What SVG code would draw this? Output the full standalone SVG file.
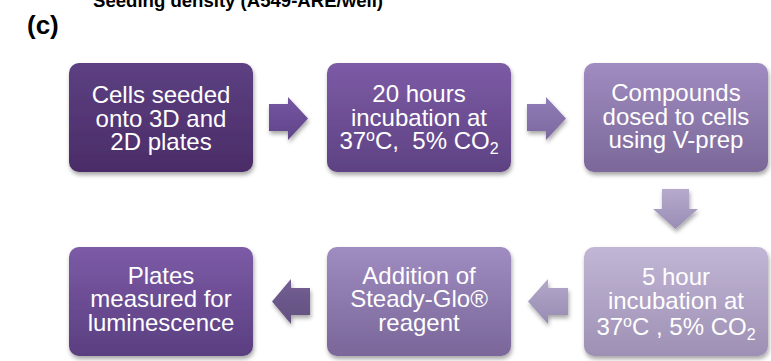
<svg xmlns="http://www.w3.org/2000/svg" width="771" height="361" viewBox="0 0 771 361">
<defs>
<style>
.lbl{font-family:"Liberation Sans",Arial,sans-serif;font-size:24px;fill:#ffffff;text-anchor:middle}
.sm{font-size:16px}
.hdr{font-family:"Liberation Sans",Arial,sans-serif;font-weight:bold;fill:#000000}
</style>
<filter id="sh" x="-10%" y="-10%" width="125%" height="130%">
<feDropShadow dx="1" dy="3" stdDeviation="2" flood-color="#000" flood-opacity="0.35"/>
</filter>
<linearGradient id="g1" x1="0" y1="0" x2="0" y2="1"><stop offset="0" stop-color="#5d4082"/><stop offset="1" stop-color="#4a2c67"/></linearGradient>
<linearGradient id="g2" x1="0" y1="0" x2="0" y2="1"><stop offset="0" stop-color="#7c5ba5"/><stop offset="1" stop-color="#5e4283"/></linearGradient>
<linearGradient id="g3" x1="0" y1="0" x2="0" y2="1"><stop offset="0" stop-color="#a08cc0"/><stop offset="1" stop-color="#7b6899"/></linearGradient>
<linearGradient id="g5" x1="0" y1="0" x2="0" y2="1"><stop offset="0" stop-color="#c2b6d6"/><stop offset="1" stop-color="#9d90b4"/></linearGradient>
<linearGradient id="g4" x1="0" y1="0" x2="0" y2="1"><stop offset="0" stop-color="#9f8cc0"/><stop offset="1" stop-color="#7a6699"/></linearGradient>
<linearGradient id="g6" x1="0" y1="0" x2="0" y2="1"><stop offset="0" stop-color="#7c5ba6"/><stop offset="1" stop-color="#5a3e80"/></linearGradient>
<linearGradient id="a1" x1="0" y1="0" x2="0" y2="1"><stop offset="0" stop-color="#7555a3"/><stop offset="1" stop-color="#604589"/></linearGradient>
<linearGradient id="a2" x1="0" y1="0" x2="0" y2="1"><stop offset="0" stop-color="#917db7"/><stop offset="1" stop-color="#7b689e"/></linearGradient>
<linearGradient id="a3" x1="0" y1="0" x2="0" y2="1"><stop offset="0" stop-color="#b6aacd"/><stop offset="1" stop-color="#9a8db4"/></linearGradient>
<linearGradient id="a4" x1="0" y1="0" x2="0" y2="1"><stop offset="0" stop-color="#b3a7ca"/><stop offset="1" stop-color="#988bb2"/></linearGradient>
<linearGradient id="a5" x1="0" y1="0" x2="0" y2="1"><stop offset="0" stop-color="#735f93"/><stop offset="1" stop-color="#625080"/></linearGradient>
</defs>
<rect width="771" height="361" fill="#ffffff"/>
<text class="hdr" x="93" y="6.5" font-size="18" textLength="290" lengthAdjust="spacingAndGlyphs">Seeding density (A549-ARE/well)</text>
<text class="hdr" x="27" y="34" font-size="26">(c)</text>

<g id="connectors" filter="url(#sh)">
<path d="M269,104 H288 V97 L308,118.5 L288,140 V131 H269 Z" fill="url(#a1)"/>
<path d="M527,104 H546 V97 L566,118.5 L546,140 V131 H527 Z" fill="url(#a2)"/>
<path d="M662,189 H689 V209 H698 L675.5,229 L653,209 H662 Z" fill="url(#a3)"/>
<path d="M568,288 V315 H548 V324 L528,301.5 L548,279 V288 Z" fill="url(#a4)"/>
<path d="M310,288 V315 H291 V324 L272,301.5 L291,279 V288 Z" fill="url(#a5)"/>
</g>

<g id="n1">
<rect x="69" y="63" width="184" height="109" rx="10" fill="url(#g1)" filter="url(#sh)"/>
<text class="lbl" x="161" y="103">Cells seeded</text>
<text class="lbl" x="161" y="127">onto 3D and</text>
<text class="lbl" x="161" y="150">2D plates</text>
</g>
<g id="n2">
<rect x="327" y="63" width="184" height="109" rx="10" fill="url(#g2)" filter="url(#sh)"/>
<text class="lbl" x="419" y="102">20 hours</text>
<text class="lbl" x="419" y="126">incubation at</text>
<text class="lbl" x="419" y="149">37<tspan class="sm" dy="-8">o</tspan><tspan dy="8">C,&#160; 5% CO</tspan><tspan class="sm" dy="5">2</tspan></text>
</g>
<g id="n3">
<rect x="584" y="63" width="184" height="109" rx="10" fill="url(#g3)" filter="url(#sh)"/>
<text class="lbl" x="676" y="101">Compounds</text>
<text class="lbl" x="676" y="125">dosed to cells</text>
<text class="lbl" x="676" y="148">using V-prep</text>
</g>
<g id="n4">
<rect x="584" y="247" width="184" height="109" rx="10" fill="url(#g5)" filter="url(#sh)"/>
<text class="lbl" x="676" y="285">5 hour</text>
<text class="lbl" x="676" y="309">incubation at</text>
<text class="lbl" x="676" y="335">37<tspan class="sm" dy="-8">o</tspan><tspan dy="8">C , 5% CO</tspan><tspan class="sm" dy="5">2</tspan></text>
</g>
<g id="n5">
<rect x="327" y="247" width="184" height="109" rx="10" fill="url(#g4)" filter="url(#sh)"/>
<text class="lbl" x="419" y="283.5">Addition of</text>
<text class="lbl" x="419" y="307">Steady-Glo®</text>
<text class="lbl" x="419" y="330.5">reagent</text>
</g>
<g id="n6">
<rect x="69" y="247" width="184" height="109" rx="10" fill="url(#g6)" filter="url(#sh)"/>
<text class="lbl" x="161" y="283.5">Plates</text>
<text class="lbl" x="161" y="307">measured for</text>
<text class="lbl" x="161" y="330.5">luminescence</text>
</g>
</svg>
